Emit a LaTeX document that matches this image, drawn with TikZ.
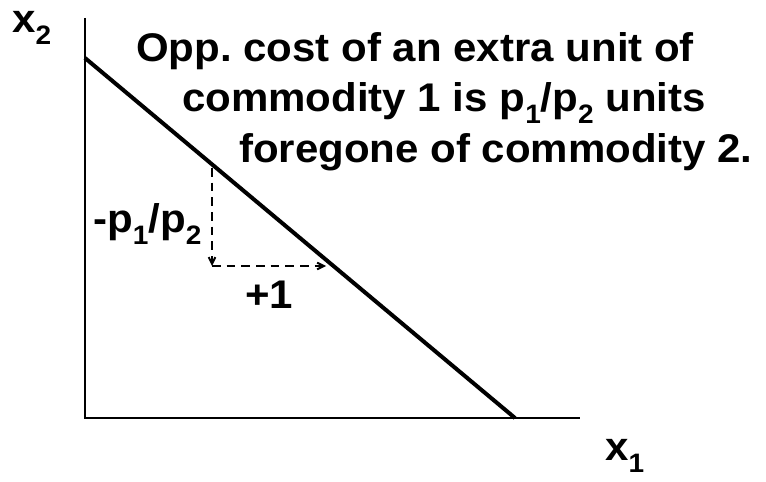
\documentclass[tikz,border=0pt]{standalone}
\usepackage{fontspec}
\setmainfont{Liberation Sans}[FakeStretch=1.05]
\usetikzlibrary{positioning, calc, arrows.meta}

\newcommand{\lowidx}[1]{\raisebox{-0.3em}{\fontsize{20}{20}\selectfont #1}}
\frenchspacing

\begin{document}
\begin{tikzpicture}[x=0.75pt, y=-0.75pt,
  lbl/.style = {font=\fontsize{30}{37.5}\selectfont\bfseries, inner sep=0pt, anchor=base west},
  dash line/.style = {line width=1.5pt, dash pattern=on 6.5pt off 4.5pt, -{Straight Barb[length=5pt, width=5pt]}} ]

\useasboundingbox (0,0) rectangle (766,481);

% axes
\coordinate (O) at (85,418);
\coordinate (ytop) at (85,18);
\coordinate (xend) at (580,418);
\draw[line width=1.5pt] (ytop) -- (O) -- (xend);

% budget line
\coordinate (A) at (85,58);
\coordinate (B) at (515,418);
\draw[line width=3pt] (A) -- (B);

%--- slope triangle ---
\coordinate (T0) at (212,168);
\coordinate (T1) at (212,266);
\coordinate (T2) at (326,266);
\draw[dash line] (T0) -- (T1);
\draw[dash line] (T1) -- (T2);

%--- axis labels ---
\node[lbl] (x2) at (12,33) {x\lowidx{2}};
\node[lbl] (x1) at (605,460) {x\lowidx{1}};

%--- triangle labels ---
\node[lbl] (dy) at (93,232) {-p\lowidx{1}/p\lowidx{2}};
\node[lbl] (dx) at (245,308) {+1};

%--- text ---
\node[lbl] (line1) at (136,62) {Opp. cost of an extra unit of};
\node[lbl] (line2) at (182,112) {commodity 1 is p\lowidx{1}/p\lowidx{2} units};
\node[lbl] (line3) at (239,162) {foregone of commodity 2.};

\end{tikzpicture}
\end{document}
